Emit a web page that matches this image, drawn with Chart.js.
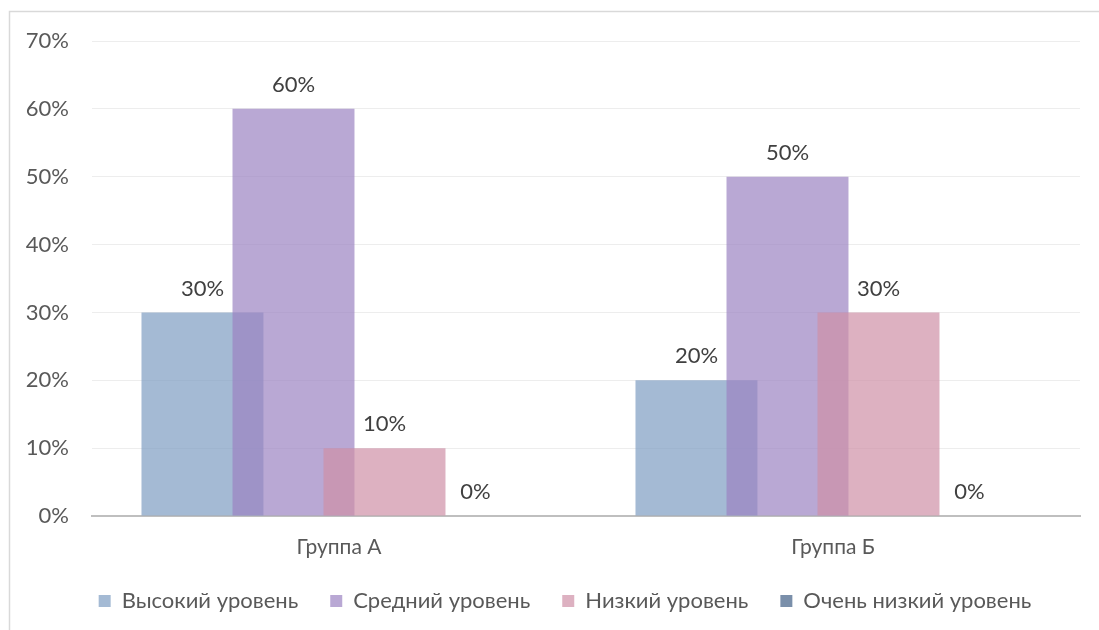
<!DOCTYPE html>
<html>
<head>
<meta charset="utf-8">
<script src="https://cdn.jsdelivr.net/npm/chart.js@4.4.1/dist/chart.umd.min.js"></script>
<style>
  html, body { margin: 0; padding: 0; background: #ffffff; }
  #wrap { position: relative; width: 1099px; height: 630px; }
  canvas { display: block; }
</style>
</head>
<body>
<div id="wrap"><canvas id="chart" width="1099" height="630"></canvas></div>
<script>
// Groups and levels (percent of children in each group)
const categories = ['Группа А', 'Группа Б'];
const highLevel = [30, 20];
const midLevel = [60, 50];
const lowLevel = [10, 30];
const veryLowLevel = [0, 0];
const seriesNames = ['Высокий уровень', 'Средний уровень', 'Низкий уровень', 'Очень низкий уровень'];
const yTicks = [0, 10, 20, 30, 40, 50, 60, 70];

const FONT = 'Lato, "Open Sans", "DejaVu Sans", sans-serif';

// Outer frame of the chart
const framePlugin = {
  id: 'frame',
  beforeDraw(chart) {
    const ctx = chart.ctx;
    ctx.save();
    ctx.fillStyle = '#ffffff';
    ctx.fillRect(0, 0, chart.width, chart.height);
    ctx.strokeStyle = '#d9d9d9';
    ctx.lineWidth = 1.5;
    ctx.beginPath();
    ctx.moveTo(9.5, chart.height + 2);
    ctx.lineTo(9.5, 11.5);
    ctx.lineTo(chart.width + 2, 11.5);
    ctx.stroke();
    ctx.restore();
  }
};

// Nudge the legend row to the right
const legendShift = {
  id: 'legendShift',
  afterLayout(chart) {
    const lg = chart.legend;
    if (lg) { lg.left += 25; lg.right += 25; }
  }
};

// Paint series first-to-last so each later series overlaps the previous one
const forwardDraw = {
  id: 'forwardDraw',
  beforeDatasetsDraw(chart) {
    for (let i = 0; i < chart.data.datasets.length; i++) {
      const meta = chart.getDatasetMeta(i);
      if (!meta.hidden) meta.controller.draw();
    }
    return false;
  }
};

// Value labels above each bar
const valueLabels = {
  id: 'valueLabels',
  afterDraw(chart) {
    const ctx = chart.ctx;
    ctx.save();
    ctx.font = '22px ' + FONT;
    ctx.fillStyle = '#404040';
    ctx.textAlign = 'center';
    ctx.textBaseline = 'middle';
    chart.data.datasets.forEach((ds, i) => {
      const meta = chart.getDatasetMeta(i);
      meta.data.forEach((bar, j) => {
        ctx.fillText(ds.data[j] + '%', bar.x, bar.y - 24);
      });
    });
    ctx.restore();
  }
};

const seriesValues = [highLevel, midLevel, lowLevel, veryLowLevel];
const seriesColors = [
  'rgba(126,156,194,0.7)',
  'rgba(155,131,194,0.7)',
  'rgba(206,144,166,0.7)',
  'rgba(66,95,134,0.7)'
];

new Chart(document.getElementById('chart'), {
  type: 'bar',
  data: {
    labels: categories,
    datasets: seriesNames.map((name, i) => ({
      label: name,
      data: seriesValues[i],
      backgroundColor: seriesColors[i],
      borderWidth: 0,
      categoryPercentage: 0.737,
      barPercentage: 1.34
    }))
  },
  options: {
    responsive: false,
    animation: false,
    layout: { padding: { left: 0, right: 19, top: 41, bottom: 8 } },
    plugins: {
      tooltip: { enabled: false },
      legend: {
        position: 'bottom',
        labels: {
          boxWidth: 12,
          boxHeight: 12,
          padding: 32,
          color: '#595959',
          font: { family: FONT, size: 22 }
        }
      }
    },
    scales: {
      x: {
        grid: { display: false, drawTicks: false },
        border: { color: '#bfbfbf', width: 2 },
        ticks: { color: '#595959', font: { family: FONT, size: 21 }, padding: 19 },
        afterFit: s => { s.height = 42; }
      },
      y: {
        min: 0,
        max: 70,
        afterBuildTicks: s => { s.ticks = yTicks.map(v => ({ value: v })); },
        grid: { color: '#ededed', lineWidth: 1, drawTicks: false },
        border: { display: false },
        ticks: {
          color: '#595959',
          font: { family: FONT, size: 22 },
          padding: 23,
          callback: v => v + '%'
        },
        afterFit: s => { s.width = 92; }
      }
    }
  },
  plugins: [framePlugin, legendShift, forwardDraw, valueLabels]
});
</script>
</body>
</html>
